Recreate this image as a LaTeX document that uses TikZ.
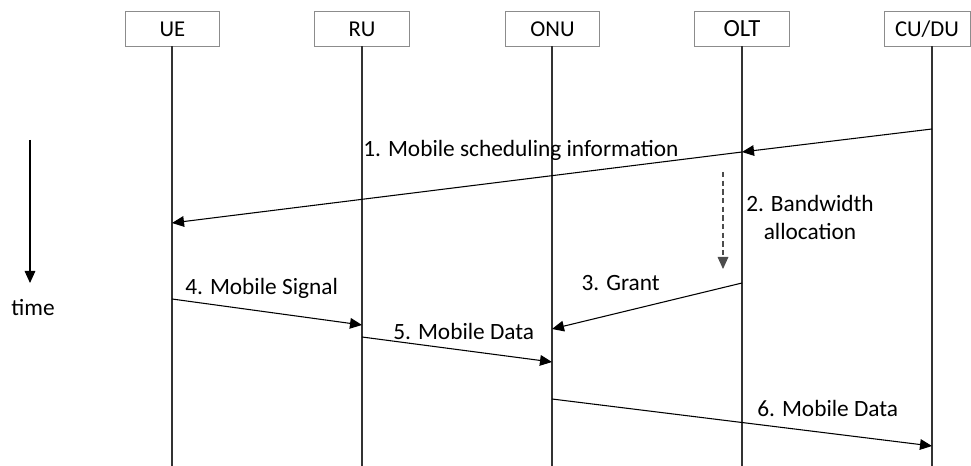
\documentclass[tikz,border=0pt]{standalone}
\usepackage{fontspec}
\setmainfont{Carlito}
\usetikzlibrary{arrows.meta}
\begin{document}
\begin{tikzpicture}[x=0.75pt,y=-0.75pt,
  actor/.style={draw=black!45,line width=0.6pt,minimum width=71pt,
    minimum height=26.25pt,inner sep=0pt,text height=11.5pt,text depth=0pt,
    font=\fontsize{17}{19}\selectfont},
  life/.style={line width=0.8pt,draw=black!80},
  msg/.style={line width=0.8pt,-{Triangle[length=9pt,width=8pt]}},
  lbl/.style={font=\fontsize{17.5}{21}\selectfont,inner sep=0pt}]
\useasboundingbox (0,0) rectangle (971,466);
% participants
\node[actor] (ue)  at (172.5,28.5) {UE};
\node[actor] (ru)  at (362,28.5) {RU};
\node[actor] (onu) at (552.5,28.5) {ONU};
\node[actor,font=\fontsize{18.5}{20}\selectfont] (olt) at (742,28.5) {OLT};
\node[actor,minimum width=64.5pt] (cu)  at (927,28.5) {CU/DU};
% lifeline ends
\coordinate (ueB)  at (172,466);
\coordinate (ruB)  at (362,466);
\coordinate (onuB) at (552,466);
\coordinate (oltB) at (742,466);
\coordinate (cuB)  at (932,466);
\draw[life] (ue.south -| ueB) -- (ueB);
\draw[life] (ru.south -| ruB) -- (ruB);
\draw[life] (onu.south -| onuB) -- (onuB);
\draw[life] (olt.south -| oltB) -- (oltB);
\draw[life] (cu.south -| cuB) -- (cuB);
% message anchors on the lifelines
\coordinate (m1a) at (932,129);
\coordinate (m1b) at (742,152);
\coordinate (m1c) at (172,223);
\coordinate (d2a) at (723,172);
\coordinate (d2b) at (723,269);
\coordinate (g3a) at (742,283);
\coordinate (g3b) at (552,329);
\coordinate (s4a) at (172,299);
\coordinate (s4b) at (362,325);
\coordinate (d5a) at (362,337);
\coordinate (d5b) at (552,362);
\coordinate (d6a) at (552,399);
\coordinate (d6b) at (932,446);
% messages
\draw[msg] (m1a) -- (m1b);
\draw[msg] (m1b) -- (m1c);
\draw[msg,dashed,dash pattern=on 4pt off 2.5pt,draw=black!70] (d2a) -- (d2b);
\draw[msg] (g3a) -- (g3b);
\draw[msg] (s4a) -- (s4b);
\draw[msg] (d5a) -- (d5b);
\draw[msg] (d6a) -- (d6b);
% time axis
\coordinate (t0) at (30,140);
\coordinate (t1) at (30,283);
\draw[msg] (t0) -- (t1);
\node[lbl] (tlbl) at (33,308) {time};
% labels
\node[lbl,anchor=west] (l1) at (363,150) {1. Mobile scheduling information};
\node[lbl,align=center] (l2) at (810,217) {2. Bandwidth\\allocation};
\node[lbl,anchor=east] (l3) at (660,283) {3. Grant};
\node[lbl,anchor=west] (l4) at (185,288) {4. Mobile Signal};
\node[lbl,anchor=west] (l5) at (393,331) {5. Mobile Data};
\node[lbl,anchor=west] (l6) at (757,408) {6. Mobile Data};
\end{tikzpicture}
\end{document}
